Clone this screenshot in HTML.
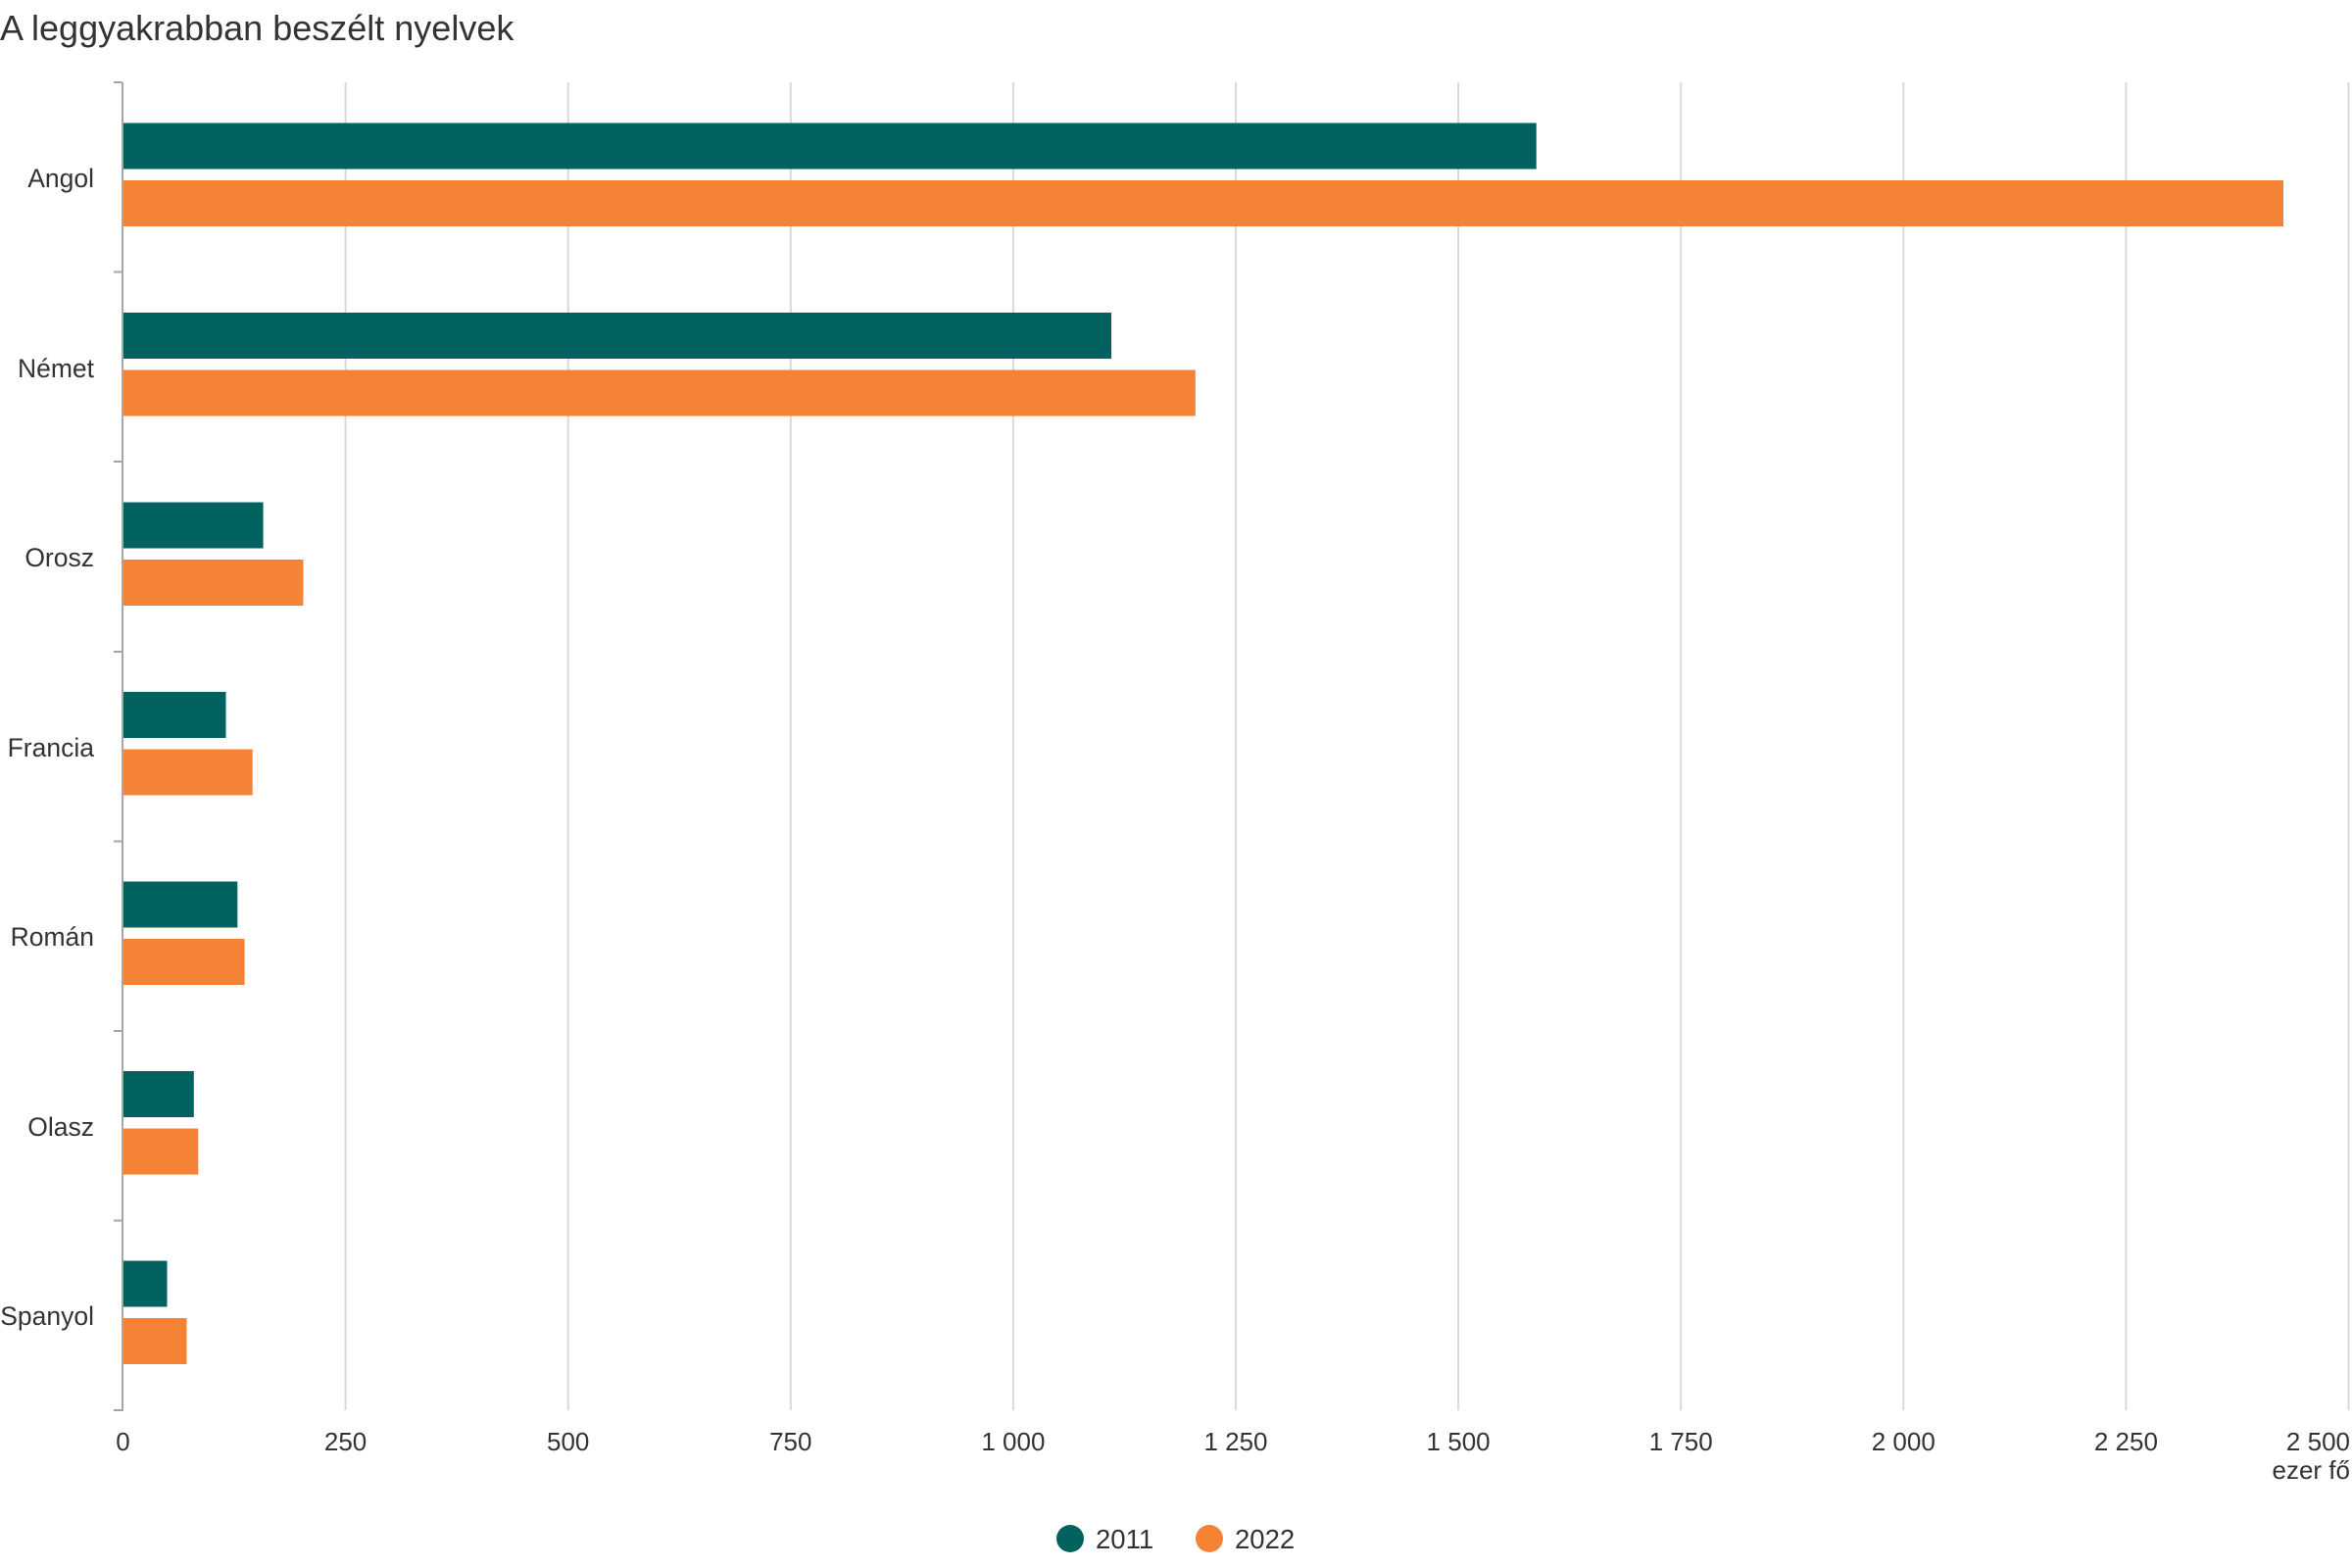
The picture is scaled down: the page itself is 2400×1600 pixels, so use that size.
<!DOCTYPE html>
<html><head><meta charset="utf-8"><style>
html,body{margin:0;padding:0;background:#fff;}
svg{display:block;font-family:"Liberation Sans",sans-serif;}
</style></head><body>
<svg width="2400" height="1600" viewBox="0 0 2400 1600" xmlns="http://www.w3.org/2000/svg">
<text x="0" y="41" font-size="36" fill="#333">A leggyakrabban beszélt nyelvek</text>
<g stroke="#d9d9d9" stroke-width="2">
<line x1="352.6" y1="84" x2="352.6" y2="1439"/>
<line x1="579.7" y1="84" x2="579.7" y2="1439"/>
<line x1="806.8" y1="84" x2="806.8" y2="1439"/>
<line x1="1033.9" y1="84" x2="1033.9" y2="1439"/>
<line x1="1261" y1="84" x2="1261" y2="1439"/>
<line x1="1488.1" y1="84" x2="1488.1" y2="1439"/>
<line x1="1715.2" y1="84" x2="1715.2" y2="1439"/>
<line x1="1942.3" y1="84" x2="1942.3" y2="1439"/>
<line x1="2169.4" y1="84" x2="2169.4" y2="1439"/>
<line x1="2396.5" y1="84" x2="2396.5" y2="1439"/>
</g>
<g id="bars">
<rect x="126" y="125.5" width="1441.7" height="47" fill="#02625f"/>
<rect x="126" y="184" width="2204" height="47" fill="#f58335"/>
<rect x="126" y="319" width="1008" height="47" fill="#02625f"/>
<rect x="126" y="377.5" width="1093.8" height="47" fill="#f58335"/>
<rect x="126" y="512.5" width="142.6" height="47" fill="#02625f"/>
<rect x="126" y="571" width="183.5" height="47" fill="#f58335"/>
<rect x="126" y="706" width="104.5" height="47" fill="#02625f"/>
<rect x="126" y="764.5" width="131.7" height="47" fill="#f58335"/>
<rect x="126" y="899.5" width="116.3" height="47" fill="#02625f"/>
<rect x="126" y="958" width="123.6" height="47" fill="#f58335"/>
<rect x="126" y="1093" width="71.8" height="47" fill="#02625f"/>
<rect x="126" y="1151.5" width="76.3" height="47" fill="#f58335"/>
<rect x="126" y="1286.5" width="44.5" height="47" fill="#02625f"/>
<rect x="126" y="1345" width="64.5" height="47" fill="#f58335"/>
</g>
<g stroke="#a6a6a6" stroke-width="2">
<line x1="125" y1="84" x2="125" y2="1440"/>
<line x1="116" y1="84" x2="125" y2="84"/>
<line x1="116" y1="277.5" x2="125" y2="277.5"/>
<line x1="116" y1="471" x2="125" y2="471"/>
<line x1="116" y1="665" x2="125" y2="665"/>
<line x1="116" y1="858.5" x2="125" y2="858.5"/>
<line x1="116" y1="1052" x2="125" y2="1052"/>
<line x1="116" y1="1245.5" x2="125" y2="1245.5"/>
<line x1="116" y1="1439" x2="125" y2="1439"/>
</g>
<g font-size="26.5" fill="#333" text-anchor="end">
<text x="96" y="191">Angol</text>
<text x="96" y="385">Német</text>
<text x="96" y="578">Orosz</text>
<text x="96" y="772">Francia</text>
<text x="96" y="965">Román</text>
<text x="96" y="1159">Olasz</text>
<text x="96" y="1352">Spanyol</text>
</g>
<g font-size="26" fill="#333" text-anchor="middle">
<text x="125.5" y="1480">0</text>
<text x="352.6" y="1480">250</text>
<text x="579.7" y="1480">500</text>
<text x="806.8" y="1480">750</text>
<text x="1033.9" y="1480">1 000</text>
<text x="1261" y="1480">1 250</text>
<text x="1488.1" y="1480">1 500</text>
<text x="1715.2" y="1480">1 750</text>
<text x="1942.3" y="1480">2 000</text>
<text x="2169.4" y="1480">2 250</text>
<text x="2398" y="1480" text-anchor="end">2 500</text>
<text x="2398" y="1509" text-anchor="end">ezer fő</text>
</g>
<circle cx="1092" cy="1570" r="14" fill="#02625f"/>
<text x="1118" y="1580" font-size="27.5" fill="#333">2011</text>
<circle cx="1234" cy="1570" r="14" fill="#f58335"/>
<text x="1260" y="1580" font-size="27.5" fill="#333">2022</text>
</svg>
</body></html>
